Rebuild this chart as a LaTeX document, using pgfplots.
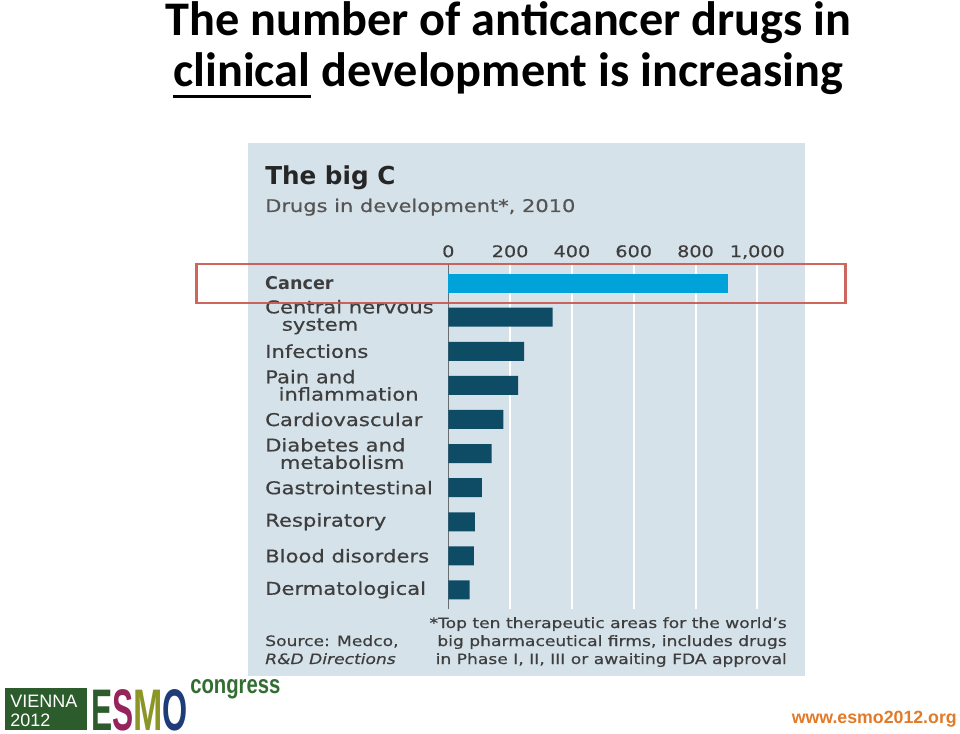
\documentclass[border=0pt]{standalone}
\usepackage{pgfplots}
\pgfplotsset{compat=1.18}
\usepackage{graphicx}
\usepackage{fontspec}
\setmainfont{DejaVu Sans}[FakeStretch=1.2, UprightFeatures={FakeBold=0.6}, ItalicFeatures={FakeBold=0.6}]
\newfontfamily\plainfont{DejaVu Sans}
\newfontfamily\titlefont{Carlito}
\newfontfamily\arialfont{Liberation Sans}
\definecolor{panel}{RGB}{214,226,234}
\definecolor{cancerbar}{RGB}{0,162,218}
\definecolor{darkbar}{RGB}{14,76,102}
\definecolor{labelcol}{RGB}{62,62,62}
\definecolor{subcol}{RGB}{85,85,85}
\definecolor{redbox}{RGB}{200,86,76}
\definecolor{zeroline}{RGB}{105,110,115}
\definecolor{esmodark}{RGB}{44,92,44}
\definecolor{esmoS}{RGB}{150,36,92}
\definecolor{esmoM}{RGB}{140,150,40}
\definecolor{esmoO}{RGB}{30,60,120}
\definecolor{esmocong}{RGB}{50,110,50}
\definecolor{weborange}{RGB}{226,122,40}
\newsavebox\clinbox
\begin{document}
\begin{tikzpicture}
\begin{scope}[x=0.75pt,y=-0.75pt]
\useasboundingbox (0,0) rectangle (960,734);
\fill[white] (0,0) rectangle (960,734);
% slide title
\node[anchor=base west, inner sep=0pt, font=\titlefont\bfseries\fontsize{36.2}{44}\selectfont] at (165,36) {The number of anticancer drugs in};
\node[anchor=base west, inner sep=0pt, font=\titlefont\bfseries\fontsize{36.2}{44}\selectfont] at (173,87) {\sbox\clinbox{clinical}\rlap{\rule[-8.6pt]{\wd\clinbox}{2.25pt}}\usebox\clinbox{} development is increasing};
% panel
\fill[panel] (248,143) rectangle (805,676);
\coordinate (axSW) at (448.3,608.7);
\node[anchor=base west, inner sep=0pt, font=\plainfont\fontsize{18.5}{22}\selectfont\bfseries, text=black!85] at (265,185) {The big C};
\node[anchor=base west, inner sep=0pt, font=\fontsize{13.1}{16}\selectfont, text=subcol] at (265,212) {Drugs in development*, 2010};
% footnotes
\begin{scope}[every node/.style={inner sep=0pt, font=\fontsize{10.7}{13}\selectfont, text=labelcol}]
\node[anchor=base east] at (787,628) {*Top ten therapeutic areas for the world’s};
\node[anchor=base east] at (787,646) {big pharmaceutical firms, includes drugs};
\node[anchor=base east] at (787,664) {in Phase I, II, III or awaiting FDA approval};
\node[anchor=base west] at (265,646) {Source: Medco,};
\node[anchor=base west] at (265,664) {\itshape R\&D Directions};
\end{scope}
% ESMO logo
\fill[esmodark] (5,688) rectangle (87,730);
\node[anchor=base west, inner sep=0pt, text=white, font=\arialfont\fontsize{13.5}{15}\selectfont] at (10,707) {VIENNA};
\node[anchor=base west, inner sep=0pt, text=white, font=\arialfont\fontsize{13.5}{15}\selectfont] at (10,726) {2012};
\node[anchor=base west, inner sep=0pt, font=\arialfont\bfseries\fontsize{44}{48}\selectfont] at (91,730) {\textcolor{esmodark}{\scalebox{0.54}[1]{E}}\textcolor{esmoS}{\scalebox{0.54}[1]{S}}\textcolor{esmoM}{\scalebox{0.6}[1]{M}}\textcolor{esmoO}{\scalebox{0.55}[1]{O}}};
\node[anchor=base west, inner sep=0pt, text=esmocong, font=\arialfont\bfseries\fontsize{19.5}{22}\selectfont] at (190,693) {\scalebox{0.78}[1]{congress}};
% website
\node[anchor=base east, inner sep=0pt, text=weborange, font=\arialfont\bfseries\fontsize{13.3}{15}\selectfont] at (957,723) {www.esmo2012.org};
\end{scope}
\begin{axis}[
  at={(axSW)}, anchor=south west,
  scale only axis, width=231.75pt, height=258.3pt,
  xmin=0, xmax=1000, ymin=-0.55, ymax=9.55, y dir=reverse,
  axis line style={draw=none},
  major tick length=0pt,
  xtick={200,400,600,800,1000},
  xticklabels={200,400,600,800,{1,000}},
  extra x ticks={0}, extra x tick labels={0},
  extra x tick style={grid style={draw=zeroline, line width=1.1pt}},
  xticklabel pos=right,
  xticklabel style={font=\fontsize{12}{14}\selectfont, text=labelcol, anchor=base, yshift=5.4pt},
  xmajorgrids,
  grid style={white, line width=1.5pt},
  ytick={0,...,9},
  yticklabels={{\plainfont\bfseries Cancer},{Central nervous\\\hspace*{12.5pt}system},Infections,{Pain and\\\hspace*{10pt}inflammation},Cardiovascular,{Diabetes and\\\hspace*{11pt}metabolism},Gastrointestinal,Respiratory,Blood disorders,Dermatological},
  yticklabel style={anchor=west, align=left, inner sep=0pt, xshift=-137.5pt, font=\fontsize{13.2}{13}\selectfont, text=labelcol},
  clip=false,
]
\addplot[xbar, bar shift=0pt, bar width=0.557, fill=cancerbar, draw=none] coordinates {(905,0)};
\addplot[xbar, bar shift=0pt, bar width=0.557, fill=darkbar, draw=none] coordinates {
(338,1) (245,2) (226,3) (178,4) (140,5) (109,6) (86,7) (83,8) (69,9)};
\end{axis}
\begin{scope}[x=0.75pt,y=-0.75pt]
\draw[redbox, line width=1.6pt, opacity=0.9] (196.5,264.3) rectangle (845.5,303.3);
\end{scope}
\end{tikzpicture}
\end{document}
